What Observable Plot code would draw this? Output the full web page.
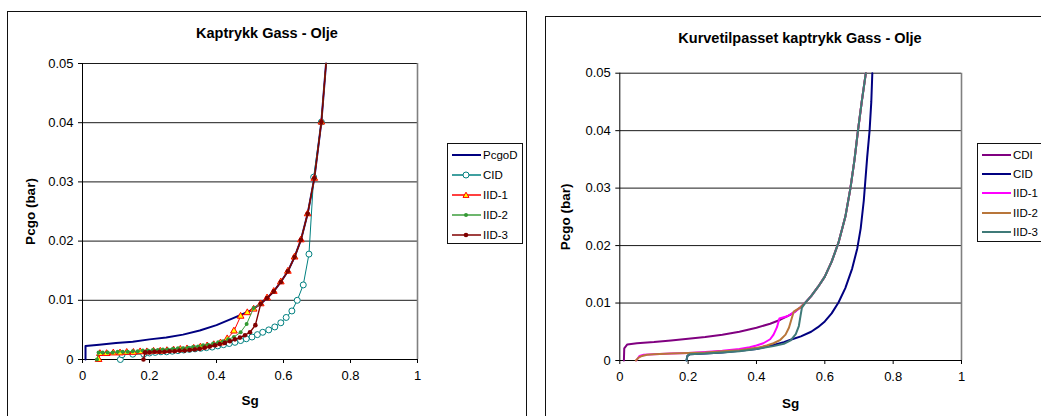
<!DOCTYPE html>
<html>
<head>
<meta charset="utf-8">
<script src="https://cdn.jsdelivr.net/npm/d3@7"></script>
<script src="https://cdn.jsdelivr.net/npm/@observablehq/plot@0.6"></script>
<style>
  body { margin: 0; background: #fff; font-family: "Liberation Sans", Arial, sans-serif; }
  #page { position: relative; width: 1041px; height: 416px; overflow: hidden; background: #fff; }
  .box { position: absolute; border: 1px solid #111; }
  .chart { position: absolute; top: 0; }
  .title { position: absolute; font-weight: bold; font-size: 14.5px; line-height: 16px; transform: translateX(-50%); white-space: nowrap; color: #000; }
  .legend { position: absolute; border: 1px solid #111; background: #fff; }
  .legend .item { position: absolute; left: 4px; height: 14px; display: flex; align-items: center; font-size: 11.5px; color: #000; white-space: nowrap; }
  .legend svg { display: block; margin-right: 2px; }
</style>
</head>
<body>
<div id="page">
  <div class="box" style="left:7px;top:11px;width:518px;height:430px;"></div>
  <div class="box" style="left:545px;top:16px;width:520px;height:430px;"></div>
</div>
<script>
// Shared axis ticks
const xTicks = [0, 0.2, 0.4, 0.6, 0.8, 1];
const xTickLabels = ["0", "0.2", "0.4", "0.6", "0.8", "1"];
const yTicks = [0, 0.01, 0.02, 0.03, 0.04, 0.05];
const yTickLabels = ["0", "0.01", "0.02", "0.03", "0.04", "0.05"];

// ---- Kaptrykk Gass - Olje (measured points) ----
const pcgoDSg = [0.009, 0.009, 0.05, 0.1, 0.15, 0.2, 0.25, 0.3, 0.35, 0.4, 0.45, 0.5, 0.532, 0.551, 0.571, 0.592, 0.613, 0.633, 0.652, 0.672, 0.692, 0.713, 0.727];
const pcgoDPc = [0, 0.0023, 0.0025, 0.0028, 0.0030, 0.0034, 0.0037, 0.0042, 0.0049, 0.0058, 0.0070, 0.0082, 0.0094, 0.0104, 0.0115, 0.0131, 0.0149, 0.0173, 0.0202, 0.0246, 0.0306, 0.0401, 0.0500];

const cidSg = [0.113, 0.118, 0.150, 0.183, 0.200, 0.217, 0.234, 0.251, 0.268, 0.285, 0.302, 0.319, 0.336, 0.353, 0.370, 0.387, 0.404, 0.421, 0.438, 0.455, 0.472, 0.489, 0.506, 0.522, 0.538, 0.556, 0.574, 0.592, 0.608, 0.625, 0.641, 0.659, 0.676, 0.690, 0.713, 0.727];
const cidPc = [0, 0.0008, 0.0009, 0.0009, 0.0011, 0.0012, 0.0013, 0.0013, 0.0014, 0.0015, 0.0016, 0.0017, 0.0018, 0.0019, 0.0020, 0.0021, 0.0023, 0.0025, 0.0027, 0.0029, 0.0032, 0.0035, 0.0038, 0.0042, 0.0046, 0.0050, 0.0055, 0.0062, 0.0071, 0.0082, 0.0100, 0.0126, 0.0178, 0.0308, 0.0401, 0.0500];

const iid1Sg = [0.048, 0.052, 0.072, 0.092, 0.112, 0.132, 0.152, 0.172, 0.192, 0.212, 0.232, 0.252, 0.272, 0.292, 0.312, 0.332, 0.352, 0.372, 0.392, 0.412, 0.432, 0.452, 0.472, 0.492, 0.511, 0.532, 0.551, 0.571, 0.592, 0.613, 0.633, 0.652, 0.672, 0.692, 0.713, 0.727];
const iid1Pc = [0, 0.0010, 0.0010, 0.0011, 0.0011, 0.0012, 0.0012, 0.0013, 0.0013, 0.0014, 0.0014, 0.0015, 0.0016, 0.0017, 0.0018, 0.0019, 0.0021, 0.0023, 0.0025, 0.0028, 0.0035, 0.0048, 0.0073, 0.0079, 0.0085, 0.0094, 0.0104, 0.0115, 0.0131, 0.0149, 0.0173, 0.0202, 0.0246, 0.0306, 0.0401, 0.0500];

const iid2Sg = [0.043, 0.048, 0.060, 0.075, 0.090, 0.105, 0.120, 0.135, 0.150, 0.165, 0.180, 0.195, 0.210, 0.225, 0.240, 0.255, 0.270, 0.285, 0.300, 0.315, 0.330, 0.345, 0.360, 0.375, 0.390, 0.405, 0.420, 0.435, 0.452, 0.472, 0.490, 0.511, 0.532, 0.551, 0.571, 0.592, 0.613, 0.633, 0.652, 0.672, 0.692, 0.713, 0.727];
const iid2Pc = [0, 0.0012, 0.0012, 0.0012, 0.0012, 0.0013, 0.0013, 0.0013, 0.0014, 0.0014, 0.0015, 0.0015, 0.0016, 0.0016, 0.0017, 0.0017, 0.0018, 0.0019, 0.0019, 0.0020, 0.0021, 0.0022, 0.0024, 0.0025, 0.0027, 0.0029, 0.0031, 0.0034, 0.0038, 0.0046, 0.0060, 0.0087, 0.0094, 0.0104, 0.0115, 0.0131, 0.0149, 0.0173, 0.0202, 0.0246, 0.0306, 0.0401, 0.0500];

const iid3Sg = [0.182, 0.187, 0.200, 0.215, 0.230, 0.245, 0.260, 0.275, 0.290, 0.305, 0.320, 0.335, 0.350, 0.365, 0.380, 0.395, 0.410, 0.425, 0.440, 0.455, 0.470, 0.485, 0.500, 0.516, 0.532, 0.551, 0.571, 0.592, 0.613, 0.633, 0.652, 0.672, 0.692, 0.713, 0.727];
const iid3Pc = [0, 0.0012, 0.0012, 0.0013, 0.0013, 0.0013, 0.0014, 0.0014, 0.0015, 0.0015, 0.0016, 0.0017, 0.0018, 0.0020, 0.0022, 0.0024, 0.0026, 0.0028, 0.0031, 0.0034, 0.0037, 0.0041, 0.0046, 0.0058, 0.0094, 0.0104, 0.0115, 0.0131, 0.0149, 0.0173, 0.0202, 0.0246, 0.0306, 0.0401, 0.0500];

// ---- Kurvetilpasset kaptrykk Gass - Olje (fitted curves) ----
const fitCdiSg = [0.012, 0.013, 0.022, 0.05, 0.10, 0.15, 0.20, 0.25, 0.30, 0.35, 0.40, 0.44, 0.47, 0.50, 0.515, 0.530, 0.545, 0.560, 0.580, 0.600, 0.620, 0.640, 0.660, 0.675, 0.687, 0.697, 0.708, 0.720];
const fitCdiPc = [0, 0.0021, 0.0028, 0.0030, 0.0032, 0.0035, 0.0038, 0.0041, 0.0045, 0.0050, 0.0057, 0.0064, 0.0071, 0.0080, 0.0086, 0.0093, 0.0102, 0.0112, 0.0128, 0.0146, 0.0172, 0.0205, 0.0250, 0.0300, 0.0350, 0.0400, 0.0450, 0.0500];

const fitCidSg = [0.195, 0.198, 0.205, 0.25, 0.30, 0.35, 0.40, 0.45, 0.48, 0.50, 0.53, 0.56, 0.58, 0.60, 0.62, 0.64, 0.66, 0.68, 0.695, 0.705, 0.714, 0.724, 0.731, 0.736, 0.739];
const fitCidPc = [0, 0.0008, 0.0011, 0.0012, 0.0014, 0.0017, 0.0020, 0.0027, 0.0032, 0.0036, 0.0042, 0.0050, 0.0058, 0.0068, 0.0082, 0.0101, 0.0126, 0.0160, 0.0195, 0.0230, 0.0278, 0.0354, 0.0400, 0.0450, 0.0500];

const fitIid1Sg = [0.048, 0.058, 0.070, 0.10, 0.15, 0.20, 0.25, 0.30, 0.35, 0.38, 0.40, 0.42, 0.44, 0.45, 0.46, 0.467, 0.49, 0.515, 0.530, 0.545, 0.560, 0.580, 0.600, 0.620, 0.640, 0.660, 0.675, 0.687, 0.697, 0.708, 0.720];
const fitIid1Pc = [0, 0.0008, 0.0010, 0.0011, 0.0012, 0.0013, 0.0015, 0.0017, 0.0020, 0.0023, 0.0026, 0.0030, 0.0037, 0.0045, 0.0058, 0.0073, 0.0077, 0.0086, 0.0093, 0.0102, 0.0112, 0.0128, 0.0146, 0.0172, 0.0205, 0.0250, 0.0300, 0.0350, 0.0400, 0.0450, 0.0500];

const fitIid2Sg = [0.047, 0.055, 0.065, 0.08, 0.10, 0.15, 0.20, 0.25, 0.30, 0.35, 0.40, 0.43, 0.45, 0.47, 0.485, 0.495, 0.503, 0.509, 0.530, 0.545, 0.560, 0.580, 0.600, 0.620, 0.640, 0.660, 0.675, 0.687, 0.697, 0.708, 0.720];
const fitIid2Pc = [0, 0.0005, 0.0008, 0.0010, 0.0011, 0.0012, 0.0013, 0.0014, 0.0016, 0.0018, 0.0022, 0.0026, 0.0030, 0.0036, 0.0045, 0.0057, 0.0073, 0.0085, 0.0093, 0.0102, 0.0112, 0.0128, 0.0146, 0.0172, 0.0205, 0.0250, 0.0300, 0.0350, 0.0400, 0.0450, 0.0500];

const fitIid3Sg = [0.195, 0.198, 0.205, 0.25, 0.30, 0.35, 0.40, 0.45, 0.48, 0.50, 0.515, 0.524, 0.529, 0.533, 0.545, 0.560, 0.580, 0.600, 0.620, 0.640, 0.660, 0.675, 0.687, 0.697, 0.708, 0.720];
const fitIid3Pc = [0, 0.0008, 0.0011, 0.0012, 0.0014, 0.0016, 0.0020, 0.0025, 0.0029, 0.0035, 0.0046, 0.0060, 0.0078, 0.0092, 0.0102, 0.0112, 0.0128, 0.0146, 0.0172, 0.0205, 0.0250, 0.0300, 0.0350, 0.0400, 0.0450, 0.0500];

const rowsOf = (sg, pc) => sg.map((s, i) => ({sg: s, pc: pc[i]}));

const measured = [
  {name: "PcgoD", rows: rowsOf(pcgoDSg, pcgoDPc), stroke: "#000080", width: 2},
  {name: "CID", rows: rowsOf(cidSg, cidPc), stroke: "#008080", width: 1, marker: {symbol: "circle", r: 3, fill: "#fff", stroke: "#008080"}},
  {name: "IID-1", rows: rowsOf(iid1Sg, iid1Pc), stroke: "#ff0000", width: 1, marker: {symbol: "triangle", r: 2.5, fill: "#ffff00", stroke: "#ff0000"}},
  {name: "IID-2", rows: rowsOf(iid2Sg, iid2Pc), stroke: "#3c9e3c", width: 1, marker: {symbol: "circle", r: 2, fill: "#339933", stroke: "none"}},
  {name: "IID-3", rows: rowsOf(iid3Sg, iid3Pc), stroke: "#800000", width: 1.4, marker: {symbol: "circle", r: 2.3, fill: "#800000", stroke: "none"}}
];

const fitted = [
  {name: "CDI", rows: rowsOf(fitCdiSg, fitCdiPc), stroke: "#800080", width: 2},
  {name: "CID", rows: rowsOf(fitCidSg, fitCidPc), stroke: "#000080", width: 2},
  {name: "IID-1", rows: rowsOf(fitIid1Sg, fitIid1Pc), stroke: "#ff00ff", width: 2},
  {name: "IID-2", rows: rowsOf(fitIid2Sg, fitIid2Pc), stroke: "#b8763a", width: 2},
  {name: "IID-3", rows: rowsOf(fitIid3Sg, fitIid3Pc), stroke: "#3f7a78", width: 2}
];

function panel({width, margins, series, xLabelDy, yLabelDx}) {
  const marks = [
    Plot.ruleY(yTicks.slice(1), {stroke: "#1a1a1a", strokeWidth: 1}),
    Plot.ruleX([1], {stroke: "#808080", strokeWidth: 1.6}),
    Plot.ruleX([0], {stroke: "#000", strokeWidth: 1}),
    Plot.ruleY([0], {stroke: "#000", strokeWidth: 1}),
    Plot.axisX({ticks: xTicks, tickFormat: d => xTickLabels[xTicks.indexOf(d)], tickSize: 4, tickPadding: 7, label: null}),
    Plot.axisY({ticks: yTicks, tickFormat: d => yTickLabels[yTicks.indexOf(d)], tickSize: 4, tickPadding: 5, label: null}),
    Plot.text(["Sg"], {frameAnchor: "bottom", dy: xLabelDy, lineAnchor: "middle", fontWeight: "bold", fontSize: 13.5}),
    Plot.text(["Pcgo (bar)"], {frameAnchor: "left", dx: -yLabelDx, rotate: -90, textAnchor: "middle", lineAnchor: "middle", fontWeight: "bold", fontSize: 13.5})
  ];
  for (const s of series) {
    marks.push(Plot.line(s.rows, {x: "sg", y: "pc", stroke: s.stroke, strokeWidth: s.width, strokeLinejoin: "round"}));
    if (s.marker) {
      marks.push(Plot.dot(s.rows.filter(d => d.pc < 0.05), {
        x: "sg", y: "pc", symbol: s.marker.symbol, r: s.marker.r,
        fill: s.marker.fill, stroke: s.marker.stroke, strokeWidth: 1
      }));
    }
  }
  return Plot.plot({
    width, height: 416,
    marginLeft: margins[0], marginRight: margins[1], marginTop: margins[2], marginBottom: margins[3],
    x: {domain: [0, 1]},
    y: {domain: [0, 0.05]},
    style: {fontFamily: "'Liberation Sans', Arial, sans-serif", fontSize: "13px", color: "#000", background: "transparent", overflow: "visible"},
    marks
  });
}

function legend(items, left, top, w, h, rowTops) {
  const box = document.createElement("div");
  box.className = "legend";
  Object.assign(box.style, {left: left + "px", top: top + "px", width: w + "px", height: h + "px"});
  items.forEach((s, i) => {
    const row = document.createElement("div");
    row.className = "item";
    row.style.top = rowTops[i] + "px";
    let mk = "";
    if (s.marker) {
      const m = s.marker;
      if (m.symbol === "triangle") {
        mk = `<path d="M14,2.2 L17,7.4 L11,7.4 Z" fill="${m.fill}" stroke="${m.stroke}" stroke-width="1"/>`;
      } else {
        mk = `<circle cx="14" cy="5" r="${m.r}" fill="${m.fill}" stroke="${m.stroke}" stroke-width="1"/>`;
      }
    }
    row.innerHTML = `<svg width="29" height="10"><line x1="0" x2="29" y1="5" y2="5" stroke="${s.stroke}" stroke-width="${Math.max(s.width, 1.5)}"/>${mk}</svg><span>${s.name}</span>`;
    box.appendChild(row);
  });
  return box;
}

function title(text, cx, top) {
  const t = document.createElement("div");
  t.className = "title";
  t.style.left = cx + "px";
  t.style.top = top + "px";
  t.textContent = text;
  return t;
}

const page = document.getElementById("page");

const left = panel({width: 525, margins: [82, 108, 63, 57], series: measured, xLabelDy: 41, yLabelDx: 52});
left.classList.add("chart");
left.style.left = "0px";
page.appendChild(left);

const right = panel({width: 511, margins: [89.3, 80, 72.7, 56], series: fitted, xLabelDy: 43, yLabelDx: 54});
right.classList.add("chart");
right.style.left = "530px";
page.appendChild(right);

page.appendChild(title("Kaptrykk Gass - Olje", 267, 25));
page.appendChild(title("Kurvetilpasset kaptrykk Gass - Olje", 800, 30));

page.appendChild(legend(measured, 447, 143, 74, 99, [4, 23.5, 43.5, 63.5, 83.5]));
page.appendChild(legend(fitted, 977, 143, 70, 97, [3.5, 23, 42, 61.5, 81]));
</script>
</body>
</html>
